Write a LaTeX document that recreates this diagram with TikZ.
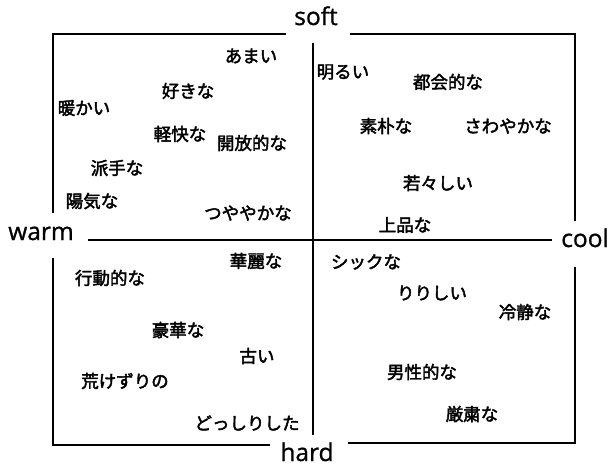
\documentclass[tikz,border=0pt]{standalone}
\usepackage{fontspec}
\setmainfont{Open Sans}
\newfontfamily\lab{Open Sans}[FakeBold=1.0]
\newfontfamily\jp{Noto Sans CJK JP}[FakeBold=2.4]
\begin{document}
\begin{tikzpicture}[x=1pt,y=-1pt,
  word/.style={font=\jp\fontsize{17.5}{19}\selectfont, inner sep=0pt, anchor=center},
  axislabel/.style={font=\lab\fontsize{24.5}{26}\selectfont, inner sep=0pt, anchor=base},
  frame/.style={line width=1.4pt, black},
  axisline/.style={line width=1.2pt, black}]
\useasboundingbox (0,0) rectangle (609,466);
% frames
\coordinate (tl1) at (53,213); \coordinate (tl2) at (53,34); \coordinate (tl3) at (286,34);
\coordinate (tr1) at (350,34); \coordinate (tr2) at (575,34); \coordinate (tr3) at (575,221);
\coordinate (bl1) at (53,258); \coordinate (bl2) at (53,445); \coordinate (bl3) at (270,445);
\coordinate (br1) at (348,443); \coordinate (br2) at (575,443); \coordinate (br3) at (575,267);
\coordinate (vtop) at (313,43); \coordinate (vbot) at (313,435);
\coordinate (hl) at (88,240); \coordinate (hr) at (552,240);
\draw[frame] (tl1) -- (tl2) -- (tl3);
\draw[frame] (tr1) -- (tr2) -- (tr3);
\draw[frame] (bl1) -- (bl2) -- (bl3);
\draw[frame] (br1) -- (br2) -- (br3);
\draw[axisline] (vtop) -- (vbot);
\draw[axisline] (hl) -- (hr);
% axis labels
\node[axislabel] (soft) at (316,25) {soft};
\node[axislabel] (hard) at (307,461) {hard};
\node[axislabel] (warm) at (41,240) {warm};
\node[axislabel] (cool) at (585,247) {cool};
% top-left
\node[word] (amai) at (251,56) {あまい};
\node[word] (suki) at (188,91) {好きな};
\node[word] (atatakai) at (84,108) {暖かい};
\node[word] (keikai) at (180,134) {軽快な};
\node[word] (kaihou) at (252,143) {開放的な};
\node[word] (hade) at (117,168) {派手な};
\node[word] (youki) at (92,201) {陽気な};
\node[word] (tsuya) at (248,213) {つややかな};
% top-right
\node[word] (akarui) at (343,72) {明るい};
\node[word] (tokai) at (448,82) {都会的な};
\node[word] (soboku) at (386,126) {素朴な};
\node[word] (sawaya) at (508,126) {さわやかな};
\node[word] (waka) at (438,183) {若々しい};
\node[word] (johin) at (405,225) {上品な};
% bottom-left
\node[word] (karei) at (256,261) {華麗な};
\node[word] (koudou) at (110,278) {行動的な};
\node[word] (gouka) at (178,330) {豪華な};
\node[word] (furui) at (257,356) {古い};
\node[word] (arakezu) at (125,381) {荒けずりの};
\node[word] (dosshiri) at (247,423) {どっしりした};
% bottom-right
\node[word] (chic) at (366,262) {シックな};
\node[word] (ririshii) at (432,293) {りりしい};
\node[word] (reisei) at (525,312) {冷静な};
\node[word] (dansei) at (422,372) {男性的な};
\node[word] (genshuku) at (472,414) {厳粛な};
\end{tikzpicture}
\end{document}
